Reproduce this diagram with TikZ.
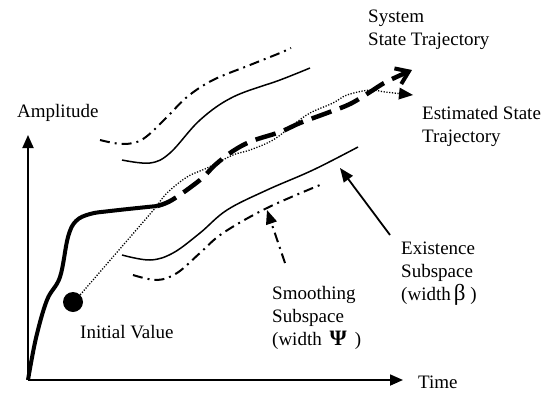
\documentclass[tikz,border=0pt]{standalone}
\usepackage{fontspec}
\setmainfont{Liberation Serif}
\usetikzlibrary{arrows.meta}
\begin{document}
\begin{tikzpicture}[x=1pt,y=-1pt,
  lbl/.style={anchor=base west,inner sep=0pt,align=left,font=\fontsize{19}{23}\selectfont},
  axis/.style={line width=1.8pt,-{Triangle[length=13pt,width=11pt]}},
  sysline/.style={line width=4pt,line cap=butt},
  dashline/.style={line width=4.5pt,dash pattern=on 21pt off 9pt},
  estline/.style={line width=1.3pt,dash pattern=on 1.2pt off 1.6pt},
  bound/.style={line width=1.5pt},
  dashdot/.style={line width=2pt,dash pattern=on 10pt off 5pt on 2pt off 5pt},
  ptr/.style={line width=1.8pt,-{Triangle[length=14pt,width=11pt]}}]
\useasboundingbox (0,0) rectangle (559,399);

% axes
\coordinate (O) at (28,380);
\coordinate (ytop) at (28,135);
\coordinate (xend) at (403,380);
\draw[axis] (O) -- (ytop);
\draw[axis] (O) -- (xend);

% labels (anchor = baseline of last line)
\node[lbl] (amp) at (17,117) {Amplitude};
\node[lbl] (time) at (418,388) {Time};
\node[lbl] (sys) at (368,45) {System\\State Trajectory};
\node[lbl] (est) at (422,142) {Estimated State\\Trajectory};
\node[lbl] (exi) at (401,300) {Existence\\Subspace\\(width\,{\fontsize{23}{23}\selectfont β} )};
\node[lbl] (smo) at (272,345) {Smoothing\\Subspace\\(width \,{\fontsize{22}{23}\selectfont\textbf{Ψ}}\, )};
\node[lbl] (ini) at (80,338) {Initial Value};

% initial value dot
\node[circle,fill,inner sep=0pt,minimum size=20pt] (dot) at (73,302) {};

% upper dash-dot bound
\draw[dashdot] plot[smooth,tension=0.6] coordinates {(100,140) (123,144) (143,139) (167,117) (187,97) (213,80) (250,65) (280,53) (291,48)};
% upper solid bound
\draw[bound] plot[smooth,tension=0.6] coordinates {(122,160) (150,163) (170,153) (200,120) (233,97) (280,80) (310,68)};
% lower solid bound
\draw[bound] plot[smooth,tension=0.6] coordinates {(122,255) (150,260) (173,253) (200,233) (227,210) (267,190) (313,170) (358,147)};
% lower dash-dot bound
\draw[dashdot] plot[smooth,tension=0.6] coordinates {(133,275) (157,280) (177,273) (200,253) (223,233) (267,208) (320,185)};

% system trajectory (thick solid)
\coordinate (join) at (157,206);
\draw[sysline] plot[smooth,tension=0.6] coordinates {(O) (36,338) (47,300) (60,277) (68,237) (76,221) (90,214) (110,211) (157,206)};
% system trajectory (thick dashed)
\coordinate (sysend) at (412,70);
\draw[dashline,-{Straight Barb[length=12pt,width=17pt,line width=4pt]}] plot[smooth,tension=0.6] coordinates {(join) (172,200) (200,180) (215,165) (233,151) (252,141) (280,132) (300,123) (327,113) (350,104) (370,92) (386,82) (sysend)};

% estimated trajectory (dotted)
\coordinate (estend) at (413,95);
\draw[estline] (dot.north east) -- (join);
\draw[estline,-{Triangle[length=14pt,width=12pt,line width=0pt]}] plot[smooth,tension=0.6] coordinates {(join) (167,193) (187,177) (207,168) (233,155) (250,150) (273,140) (293,125) (310,113) (333,103) (347,95) (370,90) (385,92) (estend)};

% pointers
\coordinate (smotip) at (267,210);
\coordinate (smostart) at (285,263);
\draw[dashdot,-{Triangle[length=14pt,width=11pt]}] (smostart) -- (smotip);
\coordinate (exitip) at (340,168);
\coordinate (existart) at (390,235);
\draw[ptr] (existart) -- (exitip);
\end{tikzpicture}
\end{document}
